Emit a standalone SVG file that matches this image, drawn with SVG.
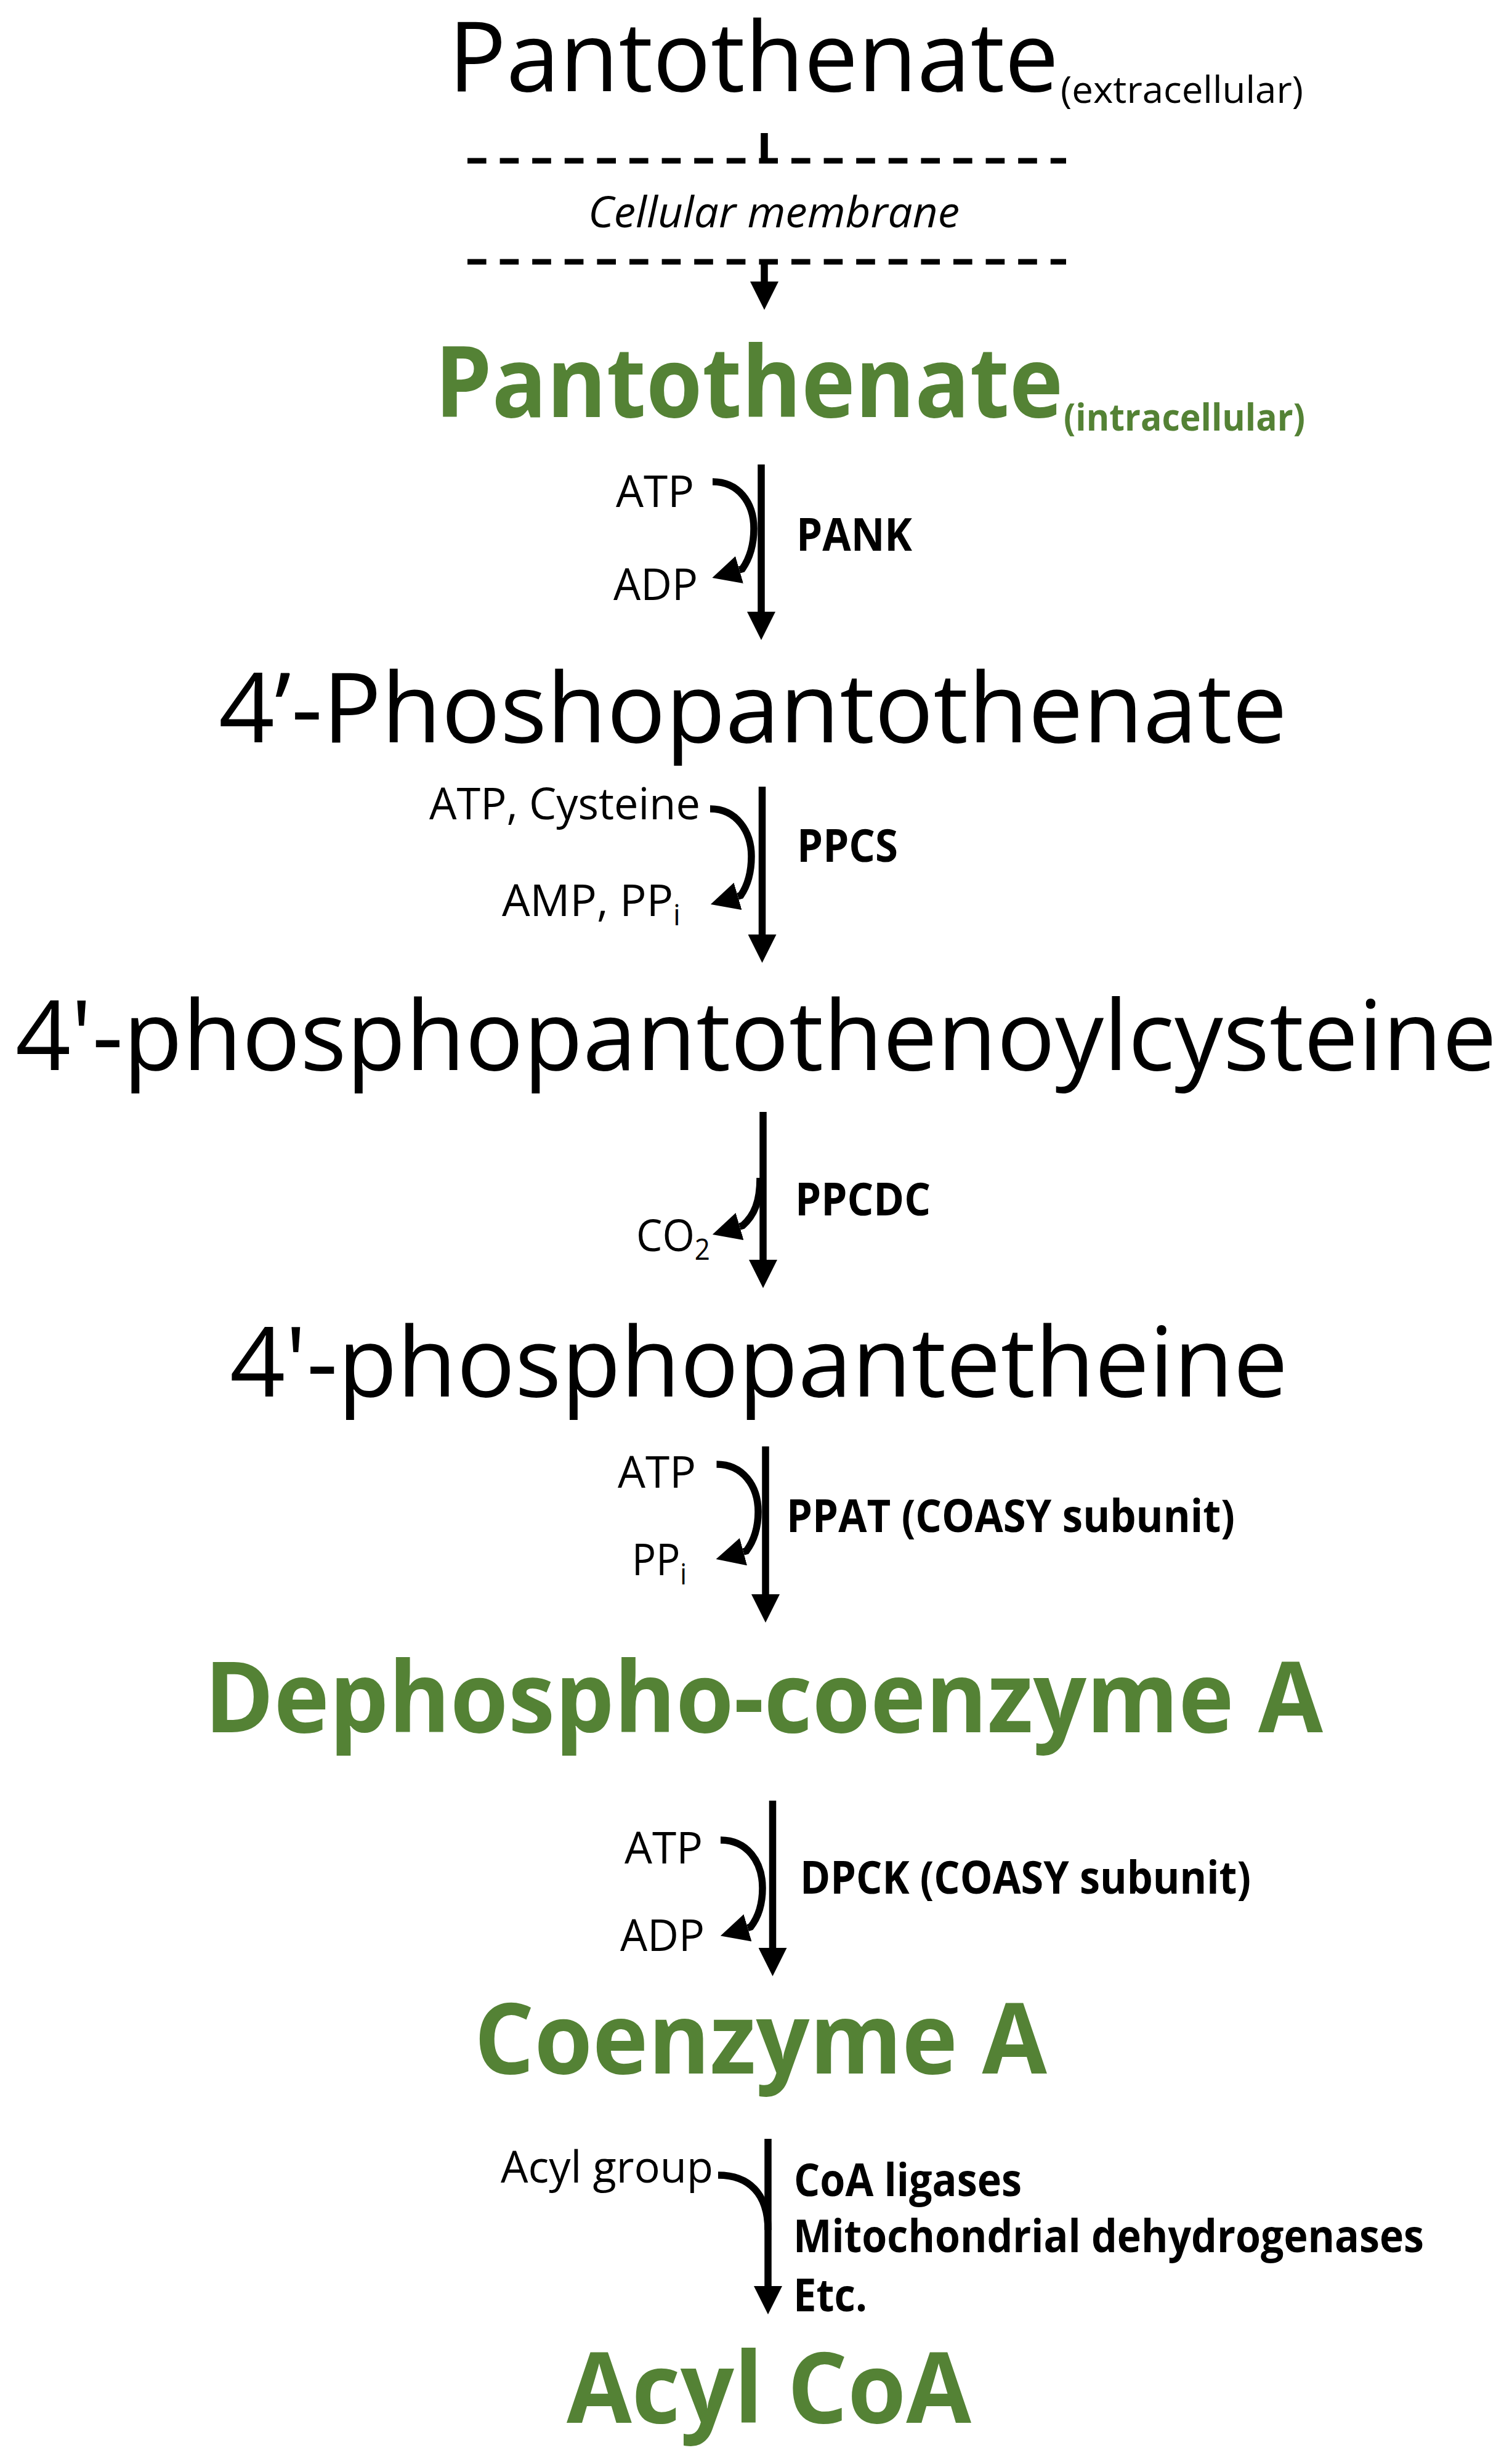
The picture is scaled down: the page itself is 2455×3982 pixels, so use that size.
<svg xmlns="http://www.w3.org/2000/svg" width="2455" height="3982" viewBox="0 0 2455 3982">
<defs>
<style>
.t{font-family:"Open Sans","Noto Sans","DejaVu Sans",sans-serif;fill:#000}
.big{font-size:158px}
.gb{font-size:160px;font-weight:700;fill:#548235}
.sm{font-size:72px}
.smb{font-size:73px;font-weight:700}
.sub{font-size:61px}
.subg{font-size:61px;font-weight:700;fill:#548235}
.it{font-size:69px;font-style:italic}
.ln{stroke:#000;stroke-width:11.5;fill:none}
.arr{marker-end:url(#ah)}
.dash{stroke:#000;stroke-width:9;stroke-dasharray:30.6 22;fill:none}
</style>
<marker id="ah" markerUnits="userSpaceOnUse" viewBox="0 -23 46 46" refX="0" refY="0" markerWidth="46" markerHeight="46" orient="auto">
<path d="M0,-23 L46,0 L0,23 Z" fill="#000"/>
</marker>
</defs>
<rect width="2455" height="3982" fill="#fff"/>

<g id="pantothenate-extracellular">
<text class="t big" x="728" y="148" textLength="991" lengthAdjust="spacingAndGlyphs">Pantothenate</text>
<text class="t sub" x="1722" y="167" textLength="394" lengthAdjust="spacingAndGlyphs">(extracellular)</text>
</g>

<g id="cellular-membrane">
<path class="dash" d="M759,261 H1731"/>
<path class="dash" d="M759,425 H1731"/>
<text class="t it" x="955" y="369" textLength="603" lengthAdjust="spacingAndGlyphs">Cellular membrane</text>
</g>

<g id="pantothenate-intracellular">
<text class="t gb" x="706" y="677" textLength="1020" lengthAdjust="spacingAndGlyphs">Pantothenate</text>
<text class="t subg" x="1727" y="699" textLength="392" lengthAdjust="spacingAndGlyphs">(intracellular)</text>
</g>

<g id="step-pank">
<text class="t sm" x="1000" y="823" textLength="127" lengthAdjust="spacingAndGlyphs">ATP</text>
<text class="t sm" x="996" y="974" textLength="137" lengthAdjust="spacingAndGlyphs">ADP</text>
<text class="t smb" x="1293" y="894" textLength="188" lengthAdjust="spacingAndGlyphs">PANK</text>
</g>

<g id="phosphopantothenate">
<text class="t big" x="355" y="1205" textLength="1735" lengthAdjust="spacingAndGlyphs">4’-Phoshopantothenate</text>
</g>

<g id="step-ppcs">
<text class="t sm" x="697" y="1330" textLength="440" lengthAdjust="spacingAndGlyphs">ATP, Cysteine</text>
<text class="t sm" x="815" y="1487" textLength="290" lengthAdjust="spacingAndGlyphs">AMP, PP<tspan font-size="47" dy="15">i</tspan></text>
<text class="t smb" x="1294" y="1399" textLength="164" lengthAdjust="spacingAndGlyphs">PPCS</text>
</g>

<g id="phosphopantothenoylcysteine">
<text class="t big" x="25" y="1737" textLength="2405" lengthAdjust="spacingAndGlyphs">4'-phosphopantothenoylcysteine</text>
</g>

<g id="step-ppcdc">
<text class="t sm" x="1033" y="2031" textLength="120" lengthAdjust="spacingAndGlyphs">CO<tspan font-size="47" dy="14">2</tspan></text>
<text class="t smb" x="1291" y="1973" textLength="220" lengthAdjust="spacingAndGlyphs">PPCDC</text>
</g>

<g id="phosphopantetheine">
<text class="t big" x="373" y="2267" textLength="1718" lengthAdjust="spacingAndGlyphs">4'-phosphopantetheine</text>
</g>

<g id="step-ppat">
<text class="t sm" x="1003" y="2415" textLength="127" lengthAdjust="spacingAndGlyphs">ATP</text>
<text class="t sm" x="1026" y="2557" textLength="89" lengthAdjust="spacingAndGlyphs">PP<tspan font-size="47" dy="15">i</tspan></text>
<text class="t smb" x="1277" y="2487" textLength="728" lengthAdjust="spacingAndGlyphs">PPAT (COASY subunit)</text>
</g>

<g id="dephospho-coenzyme-a">
<text class="t gb" x="332" y="2812" textLength="1816" lengthAdjust="spacingAndGlyphs">Dephospho-coenzyme A</text>
</g>

<g id="step-dpck">
<text class="t sm" x="1014" y="3025" textLength="127" lengthAdjust="spacingAndGlyphs">ATP</text>
<text class="t sm" x="1007" y="3167" textLength="137" lengthAdjust="spacingAndGlyphs">ADP</text>
<text class="t smb" x="1299" y="3074" textLength="732" lengthAdjust="spacingAndGlyphs">DPCK (COASY subunit)</text>
</g>

<g id="coenzyme-a">
<text class="t gb" x="770" y="3366" textLength="930" lengthAdjust="spacingAndGlyphs">Coenzyme A</text>
</g>

<g id="step-acyl">
<text class="t sm" x="813" y="3543" textLength="345" lengthAdjust="spacingAndGlyphs">Acyl group</text>
<text class="t smb" x="1289" y="3565" textLength="370" lengthAdjust="spacingAndGlyphs">CoA ligases</text>
<text class="t smb" x="1288" y="3656" textLength="1024" lengthAdjust="spacingAndGlyphs">Mitochondrial dehydrogenases</text>
<text class="t smb" x="1288" y="3752" textLength="120" lengthAdjust="spacingAndGlyphs">Etc.</text>
</g>

<g id="acyl-coa">
<text class="t gb" x="920" y="3933" textLength="657" lengthAdjust="spacingAndGlyphs">Acyl CoA</text>
</g>

<g id="connectors">
<path class="ln" d="M1241,216 V265"/>
<path class="ln arr" d="M1241,421 V457"/>
<path class="ln arr" d="M1236,754 V993"/>
<path class="ln arr" d="M1157,782 C1199,782 1224,816 1224,858 C1224,886 1216,908 1205.3,923.6 L1200.5,925"/>
<path class="ln arr" d="M1237.5,1277 V1517"/>
<path class="ln arr" d="M1153,1313 C1196,1313 1220,1350 1220,1390 C1220,1420 1212,1440 1202.8,1453.6 L1198,1455"/>
<path class="ln arr" d="M1239,1805 V2045"/>
<path class="ln arr" d="M1234,1912 C1234,1950 1225,1973 1205.8,1989.6 L1201,1991"/>
<path class="ln arr" d="M1243,2348 V2588"/>
<path class="ln arr" d="M1163.5,2377 C1206,2377 1231,2412 1231,2454 C1231,2484 1222,2504 1211.8,2517.7 L1207,2519"/>
<path class="ln arr" d="M1254.5,2923 V3162"/>
<path class="ln arr" d="M1170,2987 C1213,2987 1238,3022 1238,3065 C1238,3095 1229,3115 1218.8,3128.1 L1214,3129.5"/>
<path class="ln arr" d="M1247,3472 V3711"/>
<path class="ln" d="M1166,3531 C1215,3531 1247,3560 1247,3620"/>
</g>
</svg>
